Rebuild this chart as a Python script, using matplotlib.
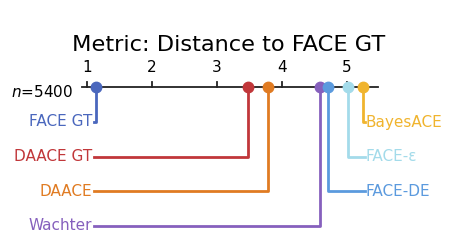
import matplotlib

matplotlib.use('Agg')

import matplotlib.pyplot as plt

# average ranks
methods = ['FACE GT', 'DAACE GT', 'DAACE', 'Wachter', 'FACE-DE', 'FACE-ε', 'BayesACE']
ranks = [1.14, 3.47, 3.79, 4.59, 4.70, 5.02, 5.25]
colors = ['#4a67bd', '#c1373a', '#e07b22', '#8660bd', '#5b9ade', '#a3dbea', '#f0b42e']
ticks = [1, 2, 3, 4, 5]
n_label = '$n$=5400'
title = 'Metric: Distance to FACE GT'

fig = plt.figure(figsize=(4.49, 2.40), dpi=100)
ax = fig.add_axes([0, 0, 1, 1])
# x in rank units (65 px per rank), y in pixels from the top
ax.set_xlim(1 - 87 / 65, 1 + 362 / 65)
ax.set_ylim(240, 0)
ax.axis('off')

line_y = 87
row_y = [122, 156.5, 191, 225.5]

ax.text(1 + (229 - 87) / 65, 45, title, ha='center', va='center', fontsize=16.2)

lo, hi = min(ranks) - 0.22, max(ranks) + 0.22
ax.plot([lo, hi], [line_y, line_y], color='#222222', lw=1.3, zorder=1)
for t in ticks:
    ax.plot([t, t], [line_y - 5, line_y], color='#222222', lw=1.3, zorder=1)
    ax.text(t, 68, str(t), ha='center', va='center', fontsize=11)
ax.text(lo - 0.14, 92, n_label, ha='right', va='center', fontsize=11)

n_left = 4
left_x = min(ranks) - 0.03
right_x = max(ranks) + 0.03
for i, (m, r, c) in enumerate(zip(methods, ranks, colors)):
    if i < n_left:
        y = row_y[i]
        ax.plot([r, r, left_x], [line_y, y, y], color=c, lw=2, zorder=2)
        ax.text(left_x - 0.03, y, m, color=c, ha='right', va='center', fontsize=11)
    else:
        y = row_y[len(methods) - 1 - i]
        ax.plot([r, r, right_x], [line_y, y, y], color=c, lw=2, zorder=2)
        ax.text(right_x + 0.005, y, m, color=c, ha='left', va='center', fontsize=11)
    ax.plot(r, line_y, 'o', color=c, markersize=7.5, zorder=3)

fig.savefig('out.png', dpi=100)
